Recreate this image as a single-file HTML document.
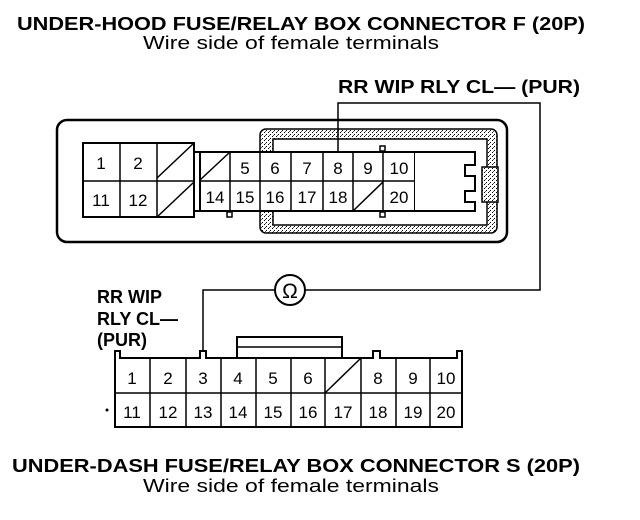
<!DOCTYPE html>
<html><head><meta charset="utf-8"><style>
html,body{margin:0;padding:0;background:#fff;}
svg{display:block;font-family:"Liberation Sans",sans-serif;}
.b{font-weight:bold;}
.n{text-anchor:middle;}
</style></head><body>
<svg width="640" height="520" viewBox="0 0 640 520">
<defs>
<pattern id="dots" width="4" height="4" patternUnits="userSpaceOnUse">
<rect width="4" height="4" fill="#fff"/><rect x="0" y="0" width="1" height="1" fill="#000"/><rect x="2" y="2" width="1" height="1" fill="#000"/><rect x="1" y="3" width="1" height="1" fill="#555"/>
</pattern>
</defs>
<text x="17" y="30" class="b" font-size="18" textLength="568" lengthAdjust="spacingAndGlyphs">UNDER-HOOD FUSE/RELAY BOX CONNECTOR F (20P)</text>
<text x="143" y="49" font-size="18" textLength="296" lengthAdjust="spacingAndGlyphs">Wire side of female terminals</text>
<text x="338" y="93" class="b" font-size="18" textLength="242" lengthAdjust="spacingAndGlyphs">RR WIP RLY CL— (PUR)</text>

<rect x="57" y="120" width="450" height="122" rx="10" fill="none" stroke="#000" stroke-width="2.5"/>
<rect x="260" y="129" width="237" height="104" rx="6" fill="url(#dots)" stroke="#000" stroke-width="1.5"/>
<rect x="273" y="139" width="214" height="86" fill="#fff" stroke="#000" stroke-width="1.5"/>
<rect x="482" y="167" width="16" height="35" fill="url(#dots)" stroke="#000" stroke-width="1.5"/>
<g fill="#fff" stroke="#000" stroke-width="2">
<rect x="83" y="143" width="111" height="74"/>
<rect x="194" y="152" width="6" height="59"/>
<rect x="200" y="152" width="215" height="59"/>
<path d="M415 152 H475 V165 H465 V176 H475 V191 H465 V202 H475 V211 H415"/>
</g>
<g stroke="#000" stroke-width="1.5" fill="none">
<line x1="83" y1="181" x2="194" y2="181"/>
<line x1="120" y1="143" x2="120" y2="217"/>
<line x1="157" y1="143" x2="157" y2="217"/>
<line x1="157" y1="178" x2="194" y2="143"/>
<line x1="157" y1="217" x2="194" y2="182"/>
<line x1="200" y1="181" x2="415" y2="181"/>
<line x1="230" y1="152" x2="230" y2="211"/>
<line x1="260" y1="152" x2="260" y2="211"/>
<line x1="291" y1="152" x2="291" y2="211"/>
<line x1="323" y1="152" x2="323" y2="211"/>
<line x1="353" y1="152" x2="353" y2="211"/>
<line x1="383" y1="152" x2="383" y2="211"/>
<line x1="200" y1="180" x2="230" y2="152"/>
<line x1="353" y1="211" x2="383" y2="182"/>
<rect x="380" y="146" width="5" height="5" fill="#fff"/>
<rect x="380" y="212" width="5" height="5" fill="#fff"/>
<rect x="227" y="212" width="5" height="5" fill="#fff"/>
</g>
<g class="n" font-size="17">
<text x="101" y="169">1</text><text x="138" y="169">2</text>
<text x="101" y="206">11</text><text x="138" y="206">12</text>
<text x="245" y="174">5</text><text x="275" y="174">6</text><text x="307" y="174">7</text><text x="338" y="174">8</text><text x="368" y="174">9</text><text x="399" y="174">10</text>
<text x="215" y="203">14</text><text x="245" y="203">15</text><text x="275" y="203">16</text><text x="307" y="203">17</text><text x="338" y="203">18</text><text x="399" y="203">20</text>
</g>

<polyline points="338,152 338,103 540,103 540,290 305,290" fill="none" stroke="#000" stroke-width="1.5"/>
<polyline points="275,290 203,290 203,352" fill="none" stroke="#000" stroke-width="1.5"/>
<circle cx="290" cy="290" r="15" fill="#fff" stroke="#000" stroke-width="2"/>
<text x="290" y="298" font-size="21" text-anchor="middle">Ω</text>

<text x="97" y="303" class="b" font-size="18">RR WIP</text>
<text x="97" y="325" class="b" font-size="18">RLY CL—</text>
<text x="97" y="346" class="b" font-size="18">(PUR)</text>

<rect x="237" y="337" width="105" height="21" fill="#fff" stroke="#000" stroke-width="2"/>
<line x1="237" y1="347" x2="342" y2="347" stroke="#000" stroke-width="1.5"/>
<path d="M115 427 V351 H120 V358 H200 V351 H206 V358 H373 V351 H380 V358 H457 V351 H462 V427 Z" fill="#fff" stroke="#000" stroke-width="2"/>
<g stroke="#000" stroke-width="1.5">
<line x1="115" y1="393" x2="462" y2="393"/>
<line x1="150" y1="358" x2="150" y2="427"/>
<line x1="186" y1="358" x2="186" y2="427"/>
<line x1="221" y1="358" x2="221" y2="427"/>
<line x1="256" y1="358" x2="256" y2="427"/>
<line x1="291" y1="358" x2="291" y2="427"/>
<line x1="325" y1="358" x2="325" y2="427"/>
<line x1="361" y1="358" x2="361" y2="427"/>
<line x1="396" y1="358" x2="396" y2="427"/>
<line x1="430" y1="358" x2="430" y2="427"/>
<line x1="325" y1="393" x2="361" y2="358"/>
</g>
<circle cx="107" cy="410" r="1.5" fill="#000"/>
<g class="n" font-size="17">
<text x="132" y="384">1</text><text x="168" y="384">2</text><text x="203" y="384">3</text><text x="238" y="384">4</text><text x="273" y="384">5</text><text x="308" y="384">6</text><text x="378" y="384">8</text><text x="413" y="384">9</text><text x="446" y="384">10</text>
<text x="132" y="418">11</text><text x="168" y="418">12</text><text x="203" y="418">13</text><text x="238" y="418">14</text><text x="273" y="418">15</text><text x="308" y="418">16</text><text x="343" y="418">17</text><text x="378" y="418">18</text><text x="413" y="418">19</text><text x="446" y="418">20</text>
</g>

<text x="12" y="472" class="b" font-size="18" textLength="568" lengthAdjust="spacingAndGlyphs">UNDER-DASH FUSE/RELAY BOX CONNECTOR S (20P)</text>
<text x="143" y="492" font-size="18" textLength="296" lengthAdjust="spacingAndGlyphs">Wire side of female terminals</text>
</svg>
</body></html>
